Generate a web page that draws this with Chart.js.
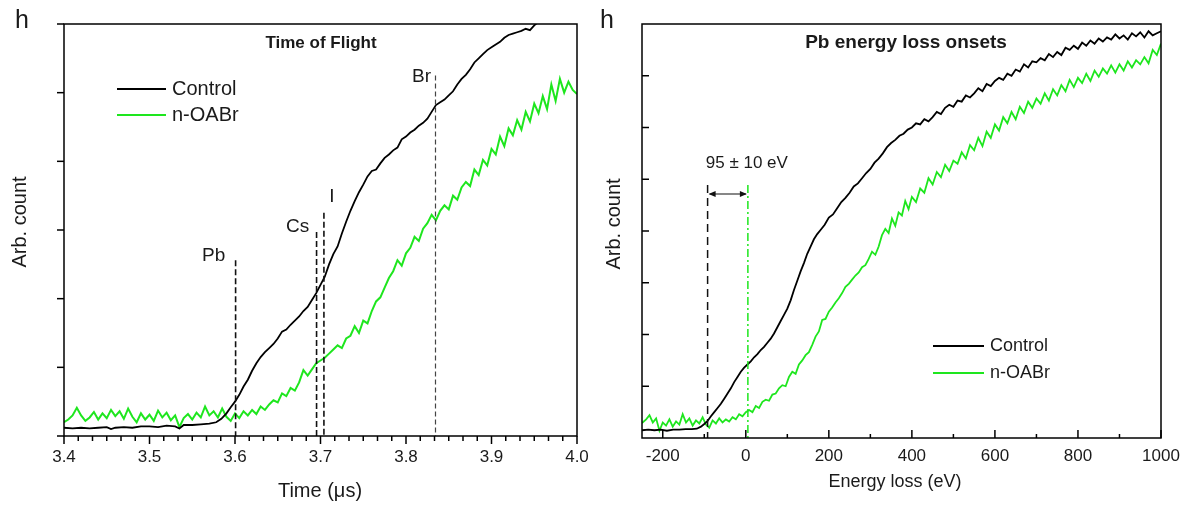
<!DOCTYPE html>
<html>
<head>
<meta charset="utf-8">
<script src="https://cdn.jsdelivr.net/npm/chart.js@4.4.1/dist/chart.umd.min.js"></script>
<style>
  html, body { margin: 0; padding: 0; background: #fff; }
  #wrap { position: relative; width: 1185px; height: 517px; }
  .box { position: absolute; top: 0; height: 517px; width: 590px; }
  #tofBox { left: 0; }
  #eelsBox { left: 595px; }
</style>
</head>
<body>
<div id="wrap">
  <div class="box" id="tofBox"><canvas id="tof"></canvas></div>
  <div class="box" id="eelsBox"><canvas id="eels"></canvas></div>
</div>
<script>
const FONT = '"Liberation Sans", Arial, sans-serif'
const TEXT = '#1a1a1a'
const GREEN = '#1ee61e'

// ---- left panel: time of flight ----
const tofTicks = [3.4, 3.5, 3.6, 3.7, 3.8, 3.9, 4.0]
const tofControl = [
  [3.400, 0.12], [3.410, 0.11], [3.420, 0.12], [3.430, 0.11], [3.440, 0.12], [3.450, 0.13],
  [3.455, 0.10], [3.460, 0.12], [3.470, 0.13], [3.480, 0.12], [3.490, 0.14], [3.500, 0.14],
  [3.510, 0.13], [3.520, 0.15], [3.530, 0.14], [3.535, 0.11], [3.540, 0.16], [3.550, 0.16],
  [3.560, 0.17], [3.570, 0.18], [3.578, 0.20], [3.584, 0.25], [3.590, 0.33], [3.595, 0.42],
  [3.600, 0.50], [3.605, 0.60], [3.610, 0.72], [3.615, 0.82], [3.620, 0.95], [3.625, 1.06],
  [3.630, 1.15], [3.635, 1.22], [3.640, 1.28], [3.645, 1.34], [3.650, 1.42], [3.655, 1.52],
  [3.660, 1.55], [3.665, 1.62], [3.670, 1.68], [3.675, 1.74], [3.680, 1.82], [3.685, 1.88],
  [3.690, 1.98], [3.695, 2.08], [3.700, 2.20], [3.705, 2.32], [3.710, 2.50], [3.715, 2.65],
  [3.720, 2.76], [3.725, 2.95], [3.730, 3.12], [3.735, 3.28], [3.740, 3.42], [3.745, 3.55],
  [3.750, 3.66], [3.755, 3.78], [3.760, 3.86], [3.765, 3.88], [3.770, 3.97], [3.775, 4.05],
  [3.780, 4.10], [3.785, 4.16], [3.790, 4.20], [3.795, 4.32], [3.800, 4.36], [3.805, 4.42],
  [3.810, 4.46], [3.815, 4.52], [3.820, 4.56], [3.825, 4.62], [3.830, 4.72], [3.835, 4.82],
  [3.840, 4.86], [3.845, 4.90], [3.850, 4.96], [3.855, 5.02], [3.860, 5.12], [3.865, 5.20],
  [3.870, 5.26], [3.875, 5.34], [3.880, 5.44], [3.885, 5.50], [3.890, 5.56], [3.895, 5.62],
  [3.900, 5.66], [3.905, 5.70], [3.910, 5.74], [3.915, 5.80], [3.920, 5.84], [3.925, 5.86],
  [3.930, 5.88], [3.935, 5.90], [3.940, 5.93], [3.945, 5.91], [3.950, 5.98], [3.955, 6.03],
  [3.970, 6.15], [4.000, 6.35]
]
const tofOABr = [
  [3.400, 0.20], [3.405, 0.24], [3.410, 0.30], [3.415, 0.41], [3.420, 0.30], [3.425, 0.22],
  [3.430, 0.27], [3.435, 0.35], [3.440, 0.24], [3.445, 0.33], [3.450, 0.26], [3.455, 0.38],
  [3.460, 0.29], [3.465, 0.36], [3.470, 0.25], [3.475, 0.40], [3.480, 0.28], [3.485, 0.20],
  [3.490, 0.33], [3.495, 0.24], [3.500, 0.31], [3.505, 0.22], [3.510, 0.37], [3.515, 0.27],
  [3.520, 0.34], [3.525, 0.23], [3.530, 0.30], [3.535, 0.13], [3.540, 0.26], [3.545, 0.32],
  [3.550, 0.24], [3.555, 0.34], [3.560, 0.27], [3.565, 0.43], [3.570, 0.30], [3.575, 0.36],
  [3.580, 0.27], [3.585, 0.40], [3.590, 0.28], [3.595, 0.22], [3.600, 0.33], [3.605, 0.26],
  [3.610, 0.36], [3.615, 0.30], [3.620, 0.38], [3.625, 0.32], [3.630, 0.43], [3.635, 0.38],
  [3.640, 0.46], [3.645, 0.52], [3.650, 0.49], [3.655, 0.62], [3.660, 0.58], [3.665, 0.70],
  [3.670, 0.66], [3.675, 0.78], [3.680, 0.96], [3.685, 0.88], [3.690, 0.97], [3.695, 1.06],
  [3.700, 1.10], [3.705, 1.14], [3.710, 1.20], [3.715, 1.26], [3.720, 1.32], [3.725, 1.28],
  [3.730, 1.42], [3.735, 1.46], [3.740, 1.60], [3.745, 1.50], [3.750, 1.68], [3.755, 1.64],
  [3.760, 1.82], [3.765, 1.96], [3.770, 2.02], [3.775, 2.16], [3.780, 2.30], [3.785, 2.40],
  [3.790, 2.56], [3.795, 2.48], [3.800, 2.66], [3.805, 2.74], [3.810, 2.90], [3.815, 2.84],
  [3.820, 3.02], [3.825, 3.10], [3.830, 3.22], [3.835, 3.14], [3.840, 3.28], [3.845, 3.36],
  [3.850, 3.30], [3.855, 3.50], [3.860, 3.44], [3.865, 3.62], [3.870, 3.70], [3.875, 3.64],
  [3.880, 3.88], [3.885, 3.80], [3.890, 4.02], [3.895, 3.94], [3.900, 4.18], [3.905, 4.10],
  [3.910, 4.36], [3.915, 4.22], [3.920, 4.48], [3.925, 4.38], [3.930, 4.60], [3.935, 4.46],
  [3.940, 4.72], [3.945, 4.58], [3.950, 4.84], [3.955, 4.70], [3.960, 4.95], [3.965, 4.76],
  [3.970, 5.12], [3.975, 4.88], [3.980, 5.20], [3.985, 5.00], [3.990, 5.16], [3.995, 5.04],
  [4.000, 4.98]
]
const onsetNames = ['Pb', 'Cs', 'I', 'Br']
const onsetTimes = [3.6007, 3.6954, 3.704, 3.8345]
const onsetTops = [2.56, 2.97, 3.25, 5.25]

// ---- right panel: Pb energy loss ----
const energyTicks = [-200, 0, 200, 400, 600, 800, 1000]
const eelsControl = [
  [-250, 0.15], [-235, 0.16], [-220, 0.15], [-205, 0.16], [-190, 0.14], [-175, 0.16],
  [-160, 0.16], [-145, 0.17], [-130, 0.17], [-118, 0.18], [-108, 0.22], [-100, 0.27],
  [-92, 0.33], [-84, 0.42], [-76, 0.50], [-68, 0.58], [-60, 0.66], [-52, 0.76],
  [-44, 0.86], [-36, 0.96], [-28, 1.08], [-20, 1.18], [-12, 1.28], [-4, 1.36],
  [4, 1.42], [12, 1.48], [20, 1.56], [28, 1.62], [36, 1.70], [44, 1.76],
  [52, 1.84], [60, 1.92], [68, 2.02], [76, 2.14], [84, 2.26], [92, 2.38],
  [100, 2.50], [108, 2.66], [116, 2.86], [124, 3.04], [132, 3.22], [140, 3.38],
  [148, 3.56], [156, 3.70], [164, 3.84], [172, 3.94], [180, 4.02], [190, 4.12],
  [200, 4.26], [210, 4.32], [220, 4.44], [230, 4.56], [240, 4.64], [250, 4.74],
  [260, 4.86], [270, 4.92], [280, 5.02], [290, 5.12], [300, 5.20], [310, 5.32],
  [320, 5.40], [330, 5.50], [340, 5.62], [350, 5.70], [360, 5.76], [370, 5.84],
  [380, 5.88], [390, 5.96], [400, 6.00], [410, 6.08], [420, 6.06], [430, 6.16],
  [440, 6.12], [450, 6.20], [460, 6.30], [470, 6.26], [480, 6.38], [490, 6.44],
  [500, 6.40], [510, 6.52], [520, 6.50], [530, 6.62], [540, 6.58], [550, 6.66],
  [560, 6.76], [570, 6.70], [580, 6.84], [590, 6.80], [600, 6.90], [610, 6.96],
  [620, 6.92], [630, 7.04], [640, 7.00], [650, 7.12], [660, 7.08], [670, 7.22],
  [680, 7.16], [690, 7.28], [700, 7.26], [710, 7.34], [720, 7.30], [730, 7.42],
  [740, 7.36], [750, 7.46], [760, 7.40], [770, 7.54], [780, 7.50], [790, 7.58],
  [800, 7.52], [810, 7.64], [820, 7.58], [830, 7.68], [840, 7.62], [850, 7.72],
  [860, 7.66], [870, 7.74], [880, 7.70], [890, 7.80], [900, 7.72], [910, 7.78],
  [920, 7.70], [930, 7.82], [940, 7.76], [950, 7.84], [960, 7.74], [970, 7.86],
  [980, 7.78], [990, 7.82], [1000, 7.86]
]
const eelsOABr = [
  [-250, 0.29], [-240, 0.36], [-232, 0.44], [-224, 0.30], [-216, 0.38], [-208, 0.14],
  [-200, 0.30], [-192, 0.24], [-184, 0.36], [-176, 0.22], [-168, 0.32], [-160, 0.26],
  [-152, 0.46], [-144, 0.30], [-136, 0.38], [-128, 0.24], [-120, 0.34], [-112, 0.28],
  [-104, 0.40], [-96, 0.26], [-88, 0.20], [-80, 0.34], [-72, 0.28], [-64, 0.38],
  [-56, 0.30], [-48, 0.36], [-40, 0.32], [-32, 0.40], [-24, 0.36], [-16, 0.46],
  [-8, 0.42], [0, 0.50], [8, 0.54], [16, 0.50], [24, 0.62], [32, 0.58],
  [40, 0.70], [48, 0.74], [56, 0.72], [64, 0.84], [72, 0.86], [80, 0.96],
  [88, 1.02], [96, 1.00], [104, 1.18], [112, 1.28], [120, 1.24], [128, 1.42],
  [136, 1.50], [144, 1.60], [152, 1.66], [160, 1.80], [168, 1.96], [176, 2.06],
  [184, 2.28], [192, 2.30], [200, 2.44], [208, 2.52], [216, 2.62], [224, 2.70],
  [232, 2.80], [240, 2.92], [248, 2.98], [256, 3.06], [264, 3.14], [272, 3.20],
  [280, 3.30], [288, 3.34], [296, 3.46], [304, 3.60], [312, 3.54], [320, 3.70],
  [328, 3.92], [336, 4.04], [344, 3.96], [352, 4.24], [360, 4.10], [368, 4.36],
  [376, 4.30], [384, 4.58], [392, 4.42], [400, 4.66], [410, 4.56], [420, 4.82],
  [430, 4.74], [440, 5.02], [450, 4.90], [460, 5.14], [470, 5.04], [480, 5.28],
  [490, 5.16], [500, 5.36], [510, 5.30], [520, 5.52], [530, 5.40], [540, 5.66],
  [550, 5.56], [560, 5.80], [570, 5.64], [580, 5.92], [590, 5.80], [600, 6.06],
  [610, 5.94], [620, 6.20], [630, 6.08], [640, 6.30], [650, 6.16], [660, 6.40],
  [670, 6.28], [680, 6.50], [690, 6.38], [700, 6.56], [710, 6.46], [720, 6.66],
  [730, 6.52], [740, 6.74], [750, 6.62], [760, 6.82], [770, 6.70], [780, 6.92],
  [790, 6.78], [800, 6.96], [810, 6.86], [820, 7.04], [830, 6.90], [840, 7.10],
  [850, 6.98], [860, 7.14], [870, 7.04], [880, 7.20], [890, 7.06], [900, 7.22],
  [910, 7.10], [920, 7.28], [930, 7.16], [940, 7.30], [950, 7.22], [960, 7.36],
  [970, 7.24], [980, 7.50], [990, 7.40], [1000, 7.62]
]
const onsetEnergies = [-92, 5]
const onsetShiftLabel = '95 ± 10 eV'

const pts = arr => arr.map(p => ({ x: p[0], y: p[1] }))

function line(ctx, x1, y1, x2, y2) {
  ctx.beginPath()
  ctx.moveTo(x1, y1)
  ctx.lineTo(x2, y2)
  ctx.stroke()
}

function text(ctx, str, x, y, size, opts = {}) {
  ctx.save()
  ctx.fillStyle = TEXT
  ctx.font = (opts.bold ? 'bold ' : '') + size + 'px ' + FONT
  ctx.textAlign = opts.align || 'center'
  ctx.textBaseline = 'middle'
  if (opts.rotate) {
    ctx.translate(x, y)
    ctx.rotate(opts.rotate)
    ctx.fillText(str, 0, 0)
  } else {
    ctx.fillText(str, x, y)
  }
  ctx.restore()
}

const tofDecor = {
  id: 'tofDecor',
  afterDatasetsDraw(chart) {
    const { ctx, chartArea: a, scales: { x, y } } = chart
    ctx.save()

    // onset markers
    const labelOffset = [[-22, -4], [-19, -5], [8, -16], [-14, 1]]
    onsetNames.forEach((name, i) => {
      const px = x.getPixelForValue(onsetTimes[i])
      const top = y.getPixelForValue(onsetTops[i])
      ctx.strokeStyle = i === 3 ? '#444' : '#111'
      ctx.lineWidth = i === 3 ? 1.2 : 1.6
      ctx.setLineDash(i === 3 ? [5, 3] : [6, 3])
      line(ctx, px, top, px, a.bottom)
      ctx.setLineDash([])
      text(ctx, name, px + labelOffset[i][0], top + labelOffset[i][1], 19)
    })

    // frame and ticks (outward)
    ctx.strokeStyle = '#000'
    ctx.lineWidth = 1.5
    ctx.strokeRect(a.left, a.top, a.right - a.left, a.bottom - a.top)
    for (let v = 0; v <= 6; v++) {
      const py = y.getPixelForValue(v)
      line(ctx, a.left - 7, py, a.left, py)
    }
    tofTicks.forEach((t, i) => {
      const px = x.getPixelForValue(t)
      line(ctx, px, a.bottom, px, a.bottom + 8)
      if (i < tofTicks.length - 1) {
        for (let k = 1; k < 6; k++) {
          const mx = x.getPixelForValue(t + k * (tofTicks[i + 1] - t) / 6)
          line(ctx, mx, a.bottom, mx, a.bottom + 5)
        }
      }
    })

    // legend
    ctx.lineWidth = 2
    ctx.strokeStyle = '#000'
    line(ctx, 117, 89, 166, 89)
    ctx.strokeStyle = GREEN
    line(ctx, 117, 115, 166, 115)
    text(ctx, 'Control', 172, 89, 20, { align: 'left' })
    text(ctx, 'n-OABr', 172, 115, 20, { align: 'left' })

    // titles
    text(ctx, 'Time of Flight', 321, 43, 17, { bold: true })
    text(ctx, 'Time (\u03BCs)', 320, 491, 20)
    text(ctx, 'Arb. count', 20, 222, 20, { rotate: -Math.PI / 2 })
    text(ctx, 'h', 22, 21, 25)
    ctx.restore()
  }
}

const eelsDecor = {
  id: 'eelsDecor',
  afterDatasetsDraw(chart) {
    const { ctx, chartArea: a, scales: { x, y } } = chart
    ctx.save()

    // onset lines and shift arrow
    const top = y.getPixelForValue(4.89)
    const xa = x.getPixelForValue(onsetEnergies[0])
    const xb = x.getPixelForValue(onsetEnergies[1])
    ctx.lineWidth = 1.5
    ctx.strokeStyle = '#111'
    ctx.setLineDash([8, 5])
    line(ctx, xa, top, xa, a.bottom)
    ctx.strokeStyle = GREEN
    ctx.setLineDash([8, 3, 2, 3])
    line(ctx, xb, top, xb, a.bottom)
    ctx.setLineDash([])
    const ay = y.getPixelForValue(4.715)
    ctx.strokeStyle = '#111'
    ctx.lineWidth = 1.2
    line(ctx, xa + 2, ay, xb - 2, ay)
    ctx.fillStyle = '#111'
    ctx.beginPath()
    ctx.moveTo(xa + 1, ay); ctx.lineTo(xa + 8, ay - 3); ctx.lineTo(xa + 8, ay + 3); ctx.closePath(); ctx.fill()
    ctx.beginPath()
    ctx.moveTo(xb - 1, ay); ctx.lineTo(xb - 8, ay - 3); ctx.lineTo(xb - 8, ay + 3); ctx.closePath(); ctx.fill()
    text(ctx, onsetShiftLabel, x.getPixelForValue(0) + 1, ay - 31, 17)

    // frame and ticks (inward)
    ctx.strokeStyle = '#000'
    ctx.lineWidth = 1.5
    ctx.strokeRect(a.left, a.top, a.right - a.left, a.bottom - a.top)
    for (let v = 1; v < 8; v++) {
      const py = y.getPixelForValue(v)
      line(ctx, a.left, py, a.left + 7, py)
    }
    energyTicks.forEach((e) => {
      const px = x.getPixelForValue(e)
      line(ctx, px, a.bottom, px, a.bottom - 8)
      const mx = x.getPixelForValue(e - (energyTicks[1] - energyTicks[0]) / 2)
      if (mx > a.left) line(ctx, mx, a.bottom, mx, a.bottom - 4)
    })

    // legend
    ctx.lineWidth = 2
    ctx.strokeStyle = '#000'
    line(ctx, 338, 346, 389, 346)
    ctx.strokeStyle = GREEN
    line(ctx, 338, 373, 389, 373)
    text(ctx, 'Control', 395, 346, 18, { align: 'left' })
    text(ctx, 'n-OABr', 395, 373, 18, { align: 'left' })

    // titles
    text(ctx, 'Pb energy loss onsets', 311, 43, 19, { bold: true })
    text(ctx, 'Energy loss (eV)', 300, 482, 18)
    text(ctx, 'Arb. count', 19, 224, 20, { rotate: -Math.PI / 2 })
    text(ctx, 'h', 12, 21, 25)
    ctx.restore()
  }
}

Chart.defaults.font.family = FONT
Chart.defaults.color = TEXT

function xScale(min, max, tickValues, fmt, height, padding) {
  return {
    type: 'linear', position: 'bottom', min, max,
    afterBuildTicks: s => { s.ticks = tickValues.map(v => ({ value: v })) },
    afterFit: s => {
      s.height = height
      s.paddingLeft = 0
      s.paddingRight = 0
    },
    ticks: { callback: fmt, font: { size: 17 }, color: TEXT, padding, maxRotation: 0, autoSkip: false },
    grid: { display: false, drawTicks: false },
    border: { display: false }
  }
}

function yScale(max, width) {
  return {
    type: 'linear', min: 0, max,
    afterFit: s => { s.width = width },
    ticks: { display: false },
    grid: { display: false, drawTicks: false },
    border: { display: false }
  }
}

new Chart(document.getElementById('tof'), {
  type: 'line',
  data: {
    datasets: [
      { label: 'Control', data: pts(tofControl), borderColor: '#000', borderWidth: 1.8, pointRadius: 0, tension: 0 },
      { label: 'n-OABr', data: pts(tofOABr), borderColor: GREEN, borderWidth: 2, pointRadius: 0, tension: 0 }
    ]
  },
  options: {
    responsive: true, maintainAspectRatio: false, animation: false,
    layout: { padding: { top: 24, right: 13, bottom: 0, left: 0 } },
    plugins: { legend: { display: false }, tooltip: { enabled: false } },
    scales: {
      x: xScale(3.4, 4.0, tofTicks, v => v.toFixed(1), 81, 11),
      y: yScale(6, 64)
    }
  },
  plugins: [tofDecor]
})

new Chart(document.getElementById('eels'), {
  type: 'line',
  data: {
    datasets: [
      { label: 'Control', data: pts(eelsControl), borderColor: '#000', borderWidth: 1.8, pointRadius: 0, tension: 0 },
      { label: 'n-OABr', data: pts(eelsOABr), borderColor: GREEN, borderWidth: 1.8, pointRadius: 0, tension: 0 }
    ]
  },
  options: {
    responsive: true, maintainAspectRatio: false, animation: false,
    layout: { padding: { top: 24, right: 24, bottom: 0, left: 0 } },
    plugins: { legend: { display: false }, tooltip: { enabled: false } },
    scales: {
      x: xScale(-250, 1000, energyTicks, v => String(v), 79, 8),
      y: yScale(8, 47)
    }
  },
  plugins: [eelsDecor]
})
</script>
</body>
</html>
